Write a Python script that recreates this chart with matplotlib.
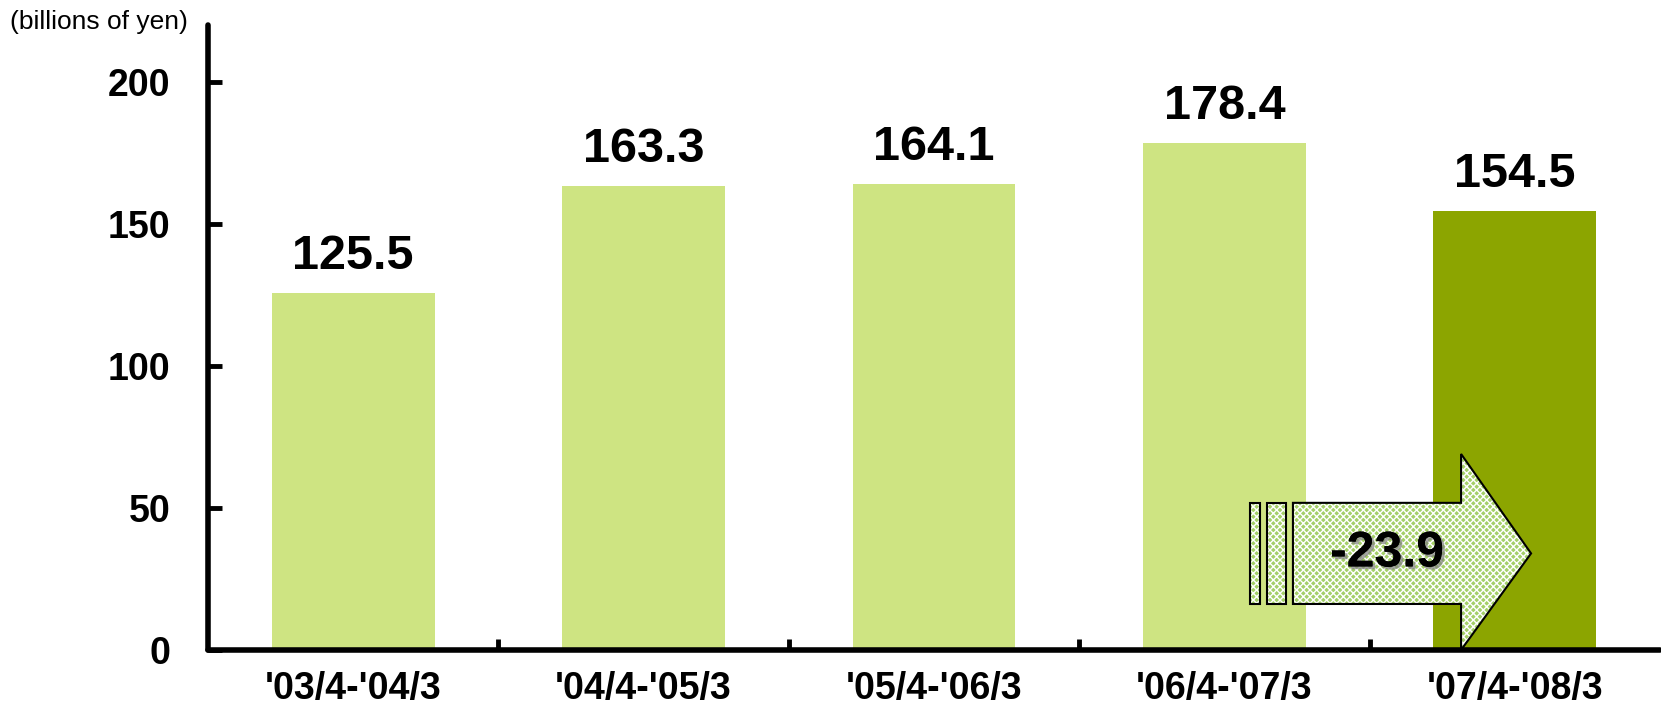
import matplotlib
matplotlib.use("Agg")
import matplotlib.pyplot as plt
import matplotlib.patheffects as pe
from matplotlib.patches import Polygon, Rectangle
import numpy as np

categories = ["'03/4-'04/3", "'04/4-'05/3", "'05/4-'06/3", "'06/4-'07/3", "'07/4-'08/3"]
values = [125.5, 163.3, 164.1, 178.4, 154.5]
value_labels = ["125.5", "163.3", "164.1", "178.4", "154.5"]
bar_colors = ["#CEE482", "#CEE482", "#CEE482", "#CEE482", "#8CA500"]
yticks = [0, 50, 100, 150, 200]
unit_label = "(billions of yen)"

plt.rcParams['font.family'] = ['Liberation Sans', 'DejaVu Sans']

fig = plt.figure(figsize=(16.61, 7.06), dpi=100)
ax = fig.add_axes([208/1661, 56/706, 1452/1661, 625/706])

x = np.arange(len(categories))
ax.bar(x, values, width=0.56, color=bar_colors, zorder=2)

for xi, v, lab in zip(x, values, value_labels):
    ax.text(xi, v + 5, lab, ha='center', va='bottom', fontsize=35,
            fontweight='bold', zorder=5)

ax.set_xlim(-0.5, len(categories) - 0.5)
ax.set_ylim(0, 220)

for s in ['top', 'right']:
    ax.spines[s].set_visible(False)
for s in ['left', 'bottom']:
    ax.spines[s].set_linewidth(4)
    ax.spines[s].set_capstyle('round')

ax.set_yticks(yticks)
ax.set_yticklabels([str(t) for t in yticks], fontsize=27, fontweight='bold')
ax.tick_params(axis='y', direction='in', length=10, width=3.5, pad=27)

ax.set_xticks(x)
ax.set_xticklabels(categories, fontsize=27, fontweight='bold')
ax.tick_params(axis='x', which='major', length=0, pad=15)
ax.set_xticks(np.arange(0.5, len(categories) - 0.5, 1), minor=True)
ax.tick_params(axis='x', which='minor', direction='in', length=8, width=3.5)

fig.text(10/1661, 1 - 22/706, unit_label, fontsize=19, ha='left', va='center')

# change arrow between last two periods
change = values[4] - values[3]
i0 = 3
body_lo, body_hi = 16.2, 51.8
head_lo, head_hi = 0.0, 69.0
body_left = i0 + 0.236
head_base = i0 + 0.815
tip_x = i0 + 1.056
tip_y = (body_lo + body_hi) / 2
arrow_pts = [(body_left, body_lo), (body_left, body_hi), (head_base, body_hi),
             (head_base, head_hi), (tip_x, tip_y), (head_base, head_lo),
             (head_base, body_lo)]
hatch_face = "#A4CF68"
ax.add_patch(Polygon(arrow_pts, closed=True, facecolor=hatch_face, edgecolor='white',
                     hatch='xxxxx', linewidth=0, zorder=3))
ax.add_patch(Polygon(arrow_pts, closed=True, facecolor='none', edgecolor='black',
                     linewidth=1.5, zorder=4))
for (l, r) in [(i0 + 0.088, i0 + 0.123), (i0 + 0.147, i0 + 0.212)]:
    ax.add_patch(Rectangle((l, body_lo), r - l, body_hi - body_lo, facecolor=hatch_face,
                           edgecolor='white', hatch='xxxxx', linewidth=0, zorder=3))
    ax.add_patch(Rectangle((l, body_lo), r - l, body_hi - body_lo, facecolor='none',
                           edgecolor='black', linewidth=1.5, zorder=4))

ax.text(i0 + 0.56, tip_y, f"{change:.1f}", ha='center', va='center', fontsize=36,
        fontweight='bold', zorder=6,
        path_effects=[pe.withSimplePatchShadow(offset=(2, -2), shadow_rgbFace='gray', alpha=0.7),
                      pe.Normal()])

fig.savefig("out.png", dpi=100)
